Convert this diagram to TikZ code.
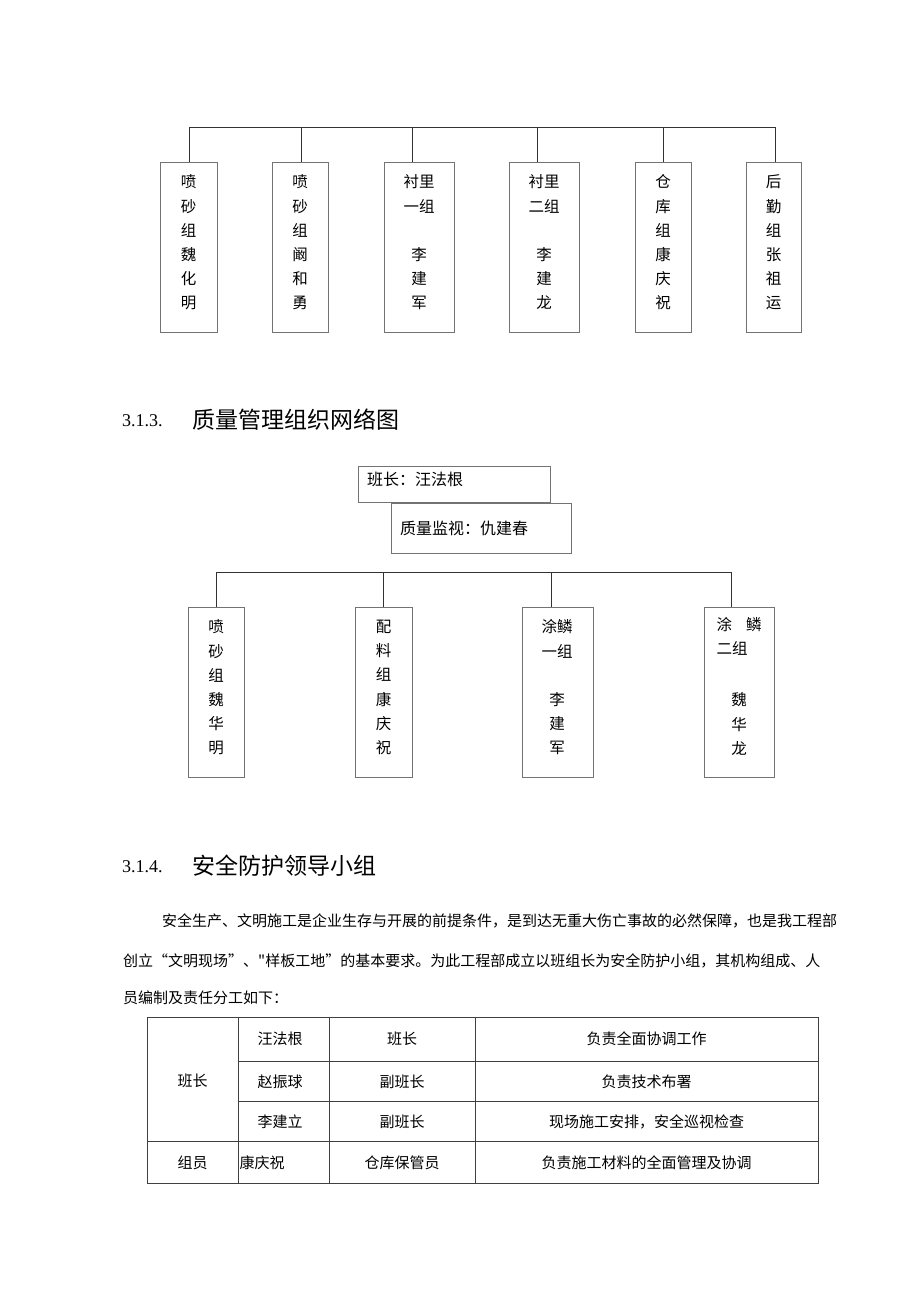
\documentclass[tikz,border=0pt]{standalone}
\usepackage{fontspec}
\setmainfont{Liberation Serif}
\newfontfamily\cjk{Noto Sans CJK SC}
\begin{document}
\begin{tikzpicture}[x=1pt,y=-1pt,
  box/.style={draw=black!55, line width=0.9pt, inner sep=0pt, fill=white},
  bus/.style={draw=black!80, line width=1pt},
  vtxt/.style={font=\cjk\fontsize{15.5}{24.2}\selectfont, align=center, inner sep=0pt},
  htxt/.style={font=\cjk\fontsize{16}{19}\selectfont, inner sep=0pt, anchor=west},
  para/.style={font=\cjk\fontsize{15}{18}\selectfont, inner sep=0pt, anchor=west},
  cell/.style={font=\cjk\fontsize{15}{18}\selectfont, inner sep=0pt},
  secnum/.style={font=\rmfamily\fontsize{18}{20}\selectfont, inner sep=0pt, anchor=west},
  sectitle/.style={font=\cjk\fontsize{23}{26}\selectfont, inner sep=0pt, anchor=west},
  grid/.style={draw=black!75, line width=1pt}
]
\useasboundingbox (0,0) rectangle (920,1301);

% ---------- top chart ----------
\node[box, minimum width=57pt, minimum height=170pt] (t1) at (188.5,247) {};
\node[box, minimum width=56pt, minimum height=170pt] (t2) at (300,247) {};
\node[box, minimum width=70pt, minimum height=170pt] (t3) at (419,247) {};
\node[box, minimum width=70pt, minimum height=170pt] (t4) at (544,247) {};
\node[box, minimum width=56pt, minimum height=170pt] (t5) at (663,247) {};
\node[box, minimum width=55pt, minimum height=170pt] (t6) at (773.5,247) {};

\node[vtxt] (t1x) at (188.5,242.5) {喷\\砂\\组\\魏\\化\\明};
\node[vtxt] (t2x) at (300,242.5) {喷\\砂\\组\\阚\\和\\勇};
\node[vtxt] (t3x) at (419,242.5) {衬里\\一组\\\mbox{}\\李\\建\\军};
\node[vtxt] (t4x) at (544,242.5) {衬里\\二组\\\mbox{}\\李\\建\\龙};
\node[vtxt] (t5x) at (663,242.5) {仓\\库\\组\\康\\庆\\祝};
\node[vtxt] (t6x) at (773.5,242.5) {后\\勤\\组\\张\\祖\\运};

\coordinate (tb1) at (189,127);
\coordinate (tb2) at (301,127);
\coordinate (tb3) at (412,127);
\coordinate (tb4) at (537,127);
\coordinate (tb5) at (663,127);
\coordinate (tb6) at (775,127);
\draw[bus] (tb1) -- (tb6);
\draw[bus] (tb1) -- (tb1 |- t1.north);
\draw[bus] (tb2) -- (tb2 |- t2.north);
\draw[bus] (tb3) -- (tb3 |- t3.north);
\draw[bus] (tb4) -- (tb4 |- t4.north);
\draw[bus] (tb5) -- (tb5 |- t5.north);
\draw[bus] (tb6) -- (tb6 |- t6.north);

% ---------- heading 3.1.3 ----------
\node[secnum] (h1n) at (122,421) {3.1.3.};
\node[sectitle] (h1t) at (192,420) {质量管理组织网络图};

% ---------- middle chart ----------
\node[box, minimum width=192pt, minimum height=36pt] (lead) at (454,484) {};
\node[htxt] (leadx) at (367,479) {班长：汪法根};
\node[box, minimum width=180pt, minimum height=50pt] (qc) at (481,528) {};
\node[htxt] (qcx) at (400,528) {质量监视：仇建春};

\node[box, minimum width=56pt, minimum height=170pt] (m1) at (216,692) {};
\node[box, minimum width=57pt, minimum height=170pt] (m2) at (383.5,692) {};
\node[box, minimum width=71pt, minimum height=170pt] (m3) at (557.5,692) {};
\node[box, minimum width=70pt, minimum height=170pt] (m4) at (739,692) {};

\node[vtxt] (m1x) at (216,687.5) {喷\\砂\\组\\魏\\华\\明};
\node[vtxt] (m2x) at (383.5,687.5) {配\\料\\组\\康\\庆\\祝};
\node[vtxt] (m3x) at (557,687.5) {涂鳞\\一组\\\mbox{}\\李\\建\\军};
\node[vtxt, align=left, anchor=north west] (m4a) at (716.5,617) {涂\hspace{14pt}鳞\\二组};
\node[vtxt] (m4b) at (739,724) {魏\\华\\龙};

\coordinate (mb1) at (216,572);
\coordinate (mb2) at (383,572);
\coordinate (mb3) at (551,572);
\coordinate (mb4) at (731,572);
\draw[bus] (mb1) -- (mb4);
\draw[bus] (mb1) -- (mb1 |- m1.north);
\draw[bus] (mb2) -- (mb2 |- m2.north);
\draw[bus] (mb3) -- (mb3 |- m3.north);
\draw[bus] (mb4) -- (mb4 |- m4.north);

% ---------- heading 3.1.4 ----------
\node[secnum] (h2n) at (122,867) {3.1.4.};
\node[sectitle] (h2t) at (192,866) {安全防护领导小组};

% ---------- paragraph ----------
\node[para] (p1) at (162,921) {安全生产、文明施工是企业生存与开展的前提条件，是到达无重大伤亡事故的必然保障，也是我工程部};
\node[para] (p2) at (123,961) {创立“文明现场”、"样板工地”的基本要求。为此工程部成立以班组长为安全防护小组，其机构组成、人};
\node[para] (p3) at (123,998) {员编制及责任分工如下：};

% ---------- table ----------
\draw[grid] (147,1017) rectangle (818,1183);
\draw[grid] (238,1017) -- (238,1183);
\draw[grid] (329,1017) -- (329,1183);
\draw[grid] (475,1017) -- (475,1183);
\draw[grid] (238,1061) -- (818,1061);
\draw[grid] (238,1101) -- (818,1101);
\draw[grid] (147,1141) -- (818,1141);

\node[cell] (c00) at (192.5,1081) {班长};
\node[cell] (c01) at (280,1039) {汪法根};
\node[cell] (c02) at (402,1039) {班长};
\node[cell] (c03) at (646.5,1039) {负责全面协调工作};
\node[cell] (c11) at (280,1082) {赵振球};
\node[cell] (c12) at (402,1082) {副班长};
\node[cell] (c13) at (646.5,1082) {负责技术布署};
\node[cell] (c21) at (280,1122) {李建立};
\node[cell] (c22) at (402,1122) {副班长};
\node[cell] (c23) at (646.5,1122) {现场施工安排，安全巡视检查};
\node[cell] (c30) at (192.5,1163) {组员};
\node[cell, anchor=west] (c31) at (239.5,1163) {康庆祝};
\node[cell] (c32) at (402,1163) {仓库保管员};
\node[cell] (c33) at (646.5,1163) {负责施工材料的全面管理及协调};
\end{tikzpicture}
\end{document}
